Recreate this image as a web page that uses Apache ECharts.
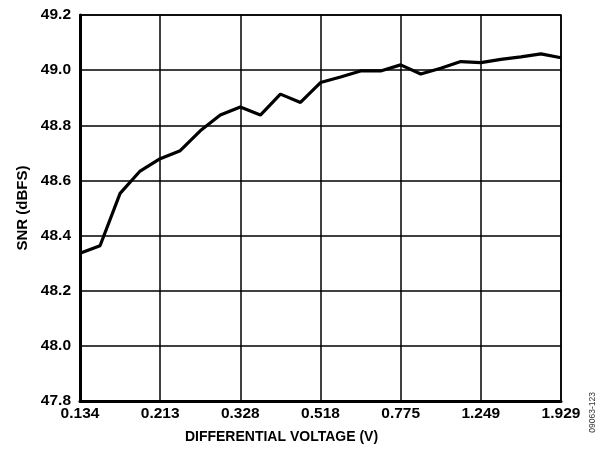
<!DOCTYPE html>
<html>
<head>
<meta charset="utf-8">
<script src="https://cdn.jsdelivr.net/npm/echarts@6/dist/echarts.min.js"></script>
<style>html,body{margin:0;padding:0;background:#fff}#c{width:598px;height:453px}</style>
</head>
<body>
<div id="c"></div>
<script>
const tickLabels = ['0.134', '0.213', '0.328', '0.518', '0.775', '1.249', '1.929'];
const pointIndex = [0,1,2,3,4,5,6,7,8,9,10,11,12,13,14,15,16,17,18,19,20,21,22,23,24];
const snr = [48.336, 48.363, 48.553, 48.634, 48.679, 48.708, 48.780, 48.837, 48.866,
             48.837, 48.913, 48.883, 48.955, 48.975, 48.997, 48.997, 49.019, 48.986,
             49.007, 49.031, 49.027, 49.039, 49.048, 49.059, 49.045];
const yTicks = { min: 47.8, max: 49.2, step: 0.2 };

const font = '"Liberation Sans", Arial, sans-serif';
const chart = echarts.init(document.getElementById('c'), null, { renderer: 'canvas' });
chart.setOption({
  animation: false,
  backgroundColor: '#fff',
  grid: { left: 80, right: 37, top: 15, bottom: 52, show: true, borderColor: '#000', borderWidth: 1.5 },
  xAxis: {
    type: 'value', min: 0, max: 24, interval: 4,
    name: 'DIFFERENTIAL VOLTAGE (V)', nameLocation: 'middle', nameGap: 29,
    nameTextStyle: { fontFamily: font, fontWeight: 'bold', fontSize: 14, color: '#000', padding: [0, 78, 0, 0] },
    axisLine: { show: true, onZero: false, lineStyle: { color: '#000', width: 3 } },
    axisTick: { show: false },
    axisLabel: { fontFamily: font, fontWeight: 'bold', fontSize: 15.5, color: '#000', margin: 5,
      formatter: v => tickLabels[Math.round(v / 4)] },
    splitLine: { show: true, lineStyle: { color: '#000', width: 1.5 } }
  },
  yAxis: {
    type: 'value', min: yTicks.min, max: yTicks.max, interval: yTicks.step,
    name: 'SNR (dBFS)', nameLocation: 'middle', nameGap: 46,
    nameTextStyle: { fontFamily: font, fontWeight: 'bold', fontSize: 15, color: '#000' },
    axisLine: { show: true, lineStyle: { color: '#000', width: 3 } },
    axisTick: { show: false },
    axisLabel: { fontFamily: font, fontWeight: 'bold', fontSize: 15.5, color: '#000', margin: 9,
      formatter: v => v.toFixed(1) },
    splitLine: { show: true, lineStyle: { color: '#000', width: 1.5 } }
  },
  graphic: [{
    type: 'text', left: 588, top: 392, rotation: Math.PI / 2,
    style: { text: '09063-123', fontFamily: font, fontSize: 8.5, fill: '#333' }
  }],
  series: [{
    type: 'line', data: pointIndex.map((x, i) => [x, snr[i]]),
    showSymbol: false, lineStyle: { color: '#000', width: 3.2 }, z: 5
  }]
});
</script>
</body>
</html>
